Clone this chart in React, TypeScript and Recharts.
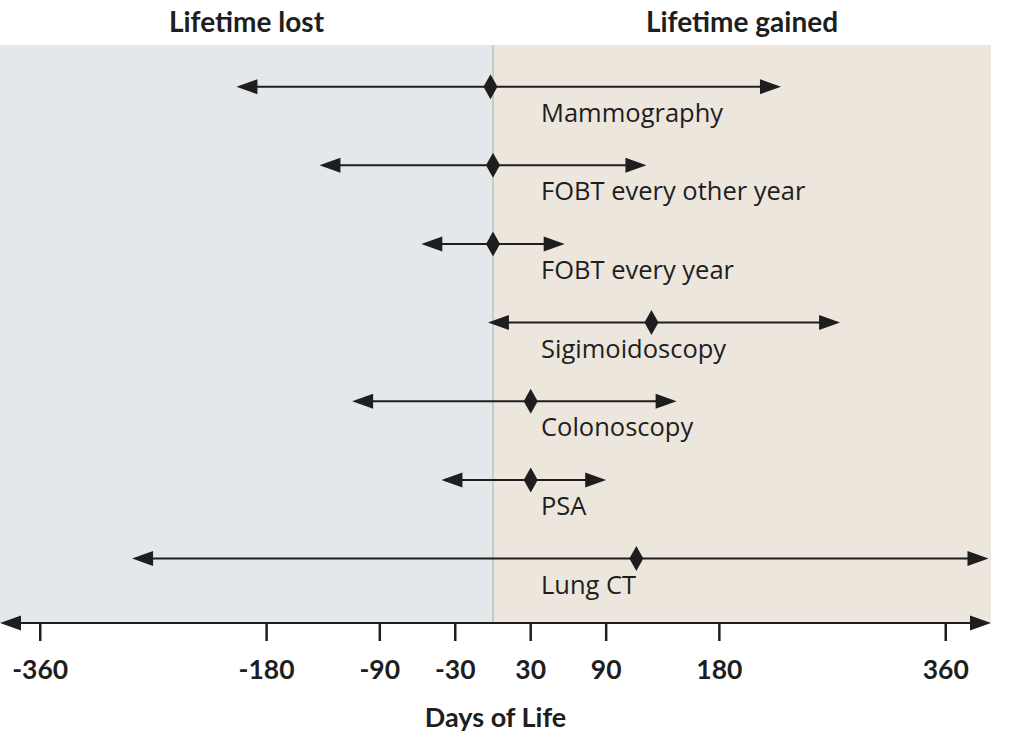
import { ComposedChart, XAxis, YAxis, ReferenceArea, ReferenceLine, Scatter } from "recharts";

// screening tests, top to bottom
const screenings = [
  "Mammography",
  "FOBT every other year",
  "FOBT every year",
  "Sigimoidoscopy",
  "Colonoscopy",
  "PSA",
  "Lung CT",
];
// days of life: lower end, point estimate, upper end
const lowDays = [-204, -138, -57, -4, -112, -41, -287];
const pointDays = [-2, 0, 0, 126, 30, 30, 114];
const highDays = [229, 122, 57, 276, 146, 90, 394];

const tickDays = [-360, -180, -90, -30, 30, 90, 180, 360];
const sideTitles = ["Lifetime lost", "Lifetime gained"];

const X_MIN = -392;
const X_MAX = 396;
const Y_MIN = -0.53;
const Y_MAX = 6.82;

const INK = "#1e1e1e";
const BOLD_FONT = "Lato, 'Open Sans', sans-serif";
const LABEL_FONT = "'Open Sans', sans-serif";

const rows = screenings.map((name, i) => ({
  name,
  row: i,
  low: lowDays[i],
  point: pointDays[i],
  high: highDays[i],
}));

// line with an arrowhead at each end, tips on the end points
const DoubleArrow = (props: any) => {
  const { x1, y1, x2, y2 } = props;
  const len = 21;
  const half = 7.5;
  return (
    <g>
      <line x1={x1 + 4} y1={y1} x2={x2 - 4} y2={y2} stroke={INK} strokeWidth={2} />
      <polygon points={`${x1},${y1} ${x1 + len},${y1 - half} ${x1 + len},${y1 + half}`} fill={INK} />
      <polygon points={`${x2},${y2} ${x2 - len},${y2 - half} ${x2 - len},${y2 + half}`} fill={INK} />
    </g>
  );
};

const Diamond = (props: any) => {
  const { cx, cy, payload } = props;
  return (
    <g>
      <polygon
        points={`${cx},${cy - 12.5} ${cx + 7},${cy} ${cx},${cy + 12.5} ${cx - 7},${cy}`}
        fill={INK}
      />
      <text x={541} y={cy + 35} fill={INK} fontSize={25.5} fontFamily={LABEL_FONT}>
        {payload.name}
      </text>
    </g>
  );
};

const titleLabel = (value: string) => ({
  value,
  position: "top" as const,
  offset: 13,
  fill: INK,
  fontSize: 28,
  fontWeight: 700,
  fontFamily: BOLD_FONT,
});

export default function App() {
  return (
    <div style={{ position: "absolute", left: 0, top: 0, background: "#fff" }}>
      <ComposedChart
        width={1024}
        height={748}
        data={rows}
        margin={{ top: 45, right: 33, bottom: 15, left: 0 }}
      >
        <XAxis
          type="number"
          dataKey="point"
          domain={[X_MIN, X_MAX]}
          allowDataOverflow
          ticks={tickDays}
          interval={0}
          height={110}
          axisLine={false}
          tickSize={18}
          tickMargin={19}
          tickLine={{ stroke: INK, strokeWidth: 2.5 }}
          tick={{ fill: INK, fontSize: 26.5, fontWeight: 700, fontFamily: BOLD_FONT }}
          label={{
            value: "Days of Life",
            position: "insideBottom",
            offset: 6,
            fill: INK,
            fontSize: 27,
            fontWeight: 700,
            fontFamily: BOLD_FONT,
          }}
        />
        <YAxis type="number" dataKey="row" domain={[Y_MIN, Y_MAX]} reversed hide allowDataOverflow />
        <ReferenceArea
          x1={X_MIN}
          x2={0}
          fill="#e4e8eb"
          fillOpacity={1}
          stroke="none"
          label={titleLabel(sideTitles[0])}
        />
        <ReferenceArea
          x1={0}
          x2={X_MAX}
          fill="#ece6dd"
          fillOpacity={1}
          stroke="none"
          label={titleLabel(sideTitles[1])}
        />
        <ReferenceLine x={0} stroke="#a8afb5" strokeWidth={1} />
        <ReferenceLine y={Y_MAX} shape={DoubleArrow} ifOverflow="visible" />
        {rows.map((r) => (
          <ReferenceLine
            key={r.name}
            segment={[
              { x: r.low, y: r.row },
              { x: r.high, y: r.row },
            ]}
            shape={DoubleArrow}
            ifOverflow="visible"
          />
        ))}
        <Scatter dataKey="row" shape={Diamond} isAnimationActive={false} />
      </ComposedChart>
    </div>
  );
}
